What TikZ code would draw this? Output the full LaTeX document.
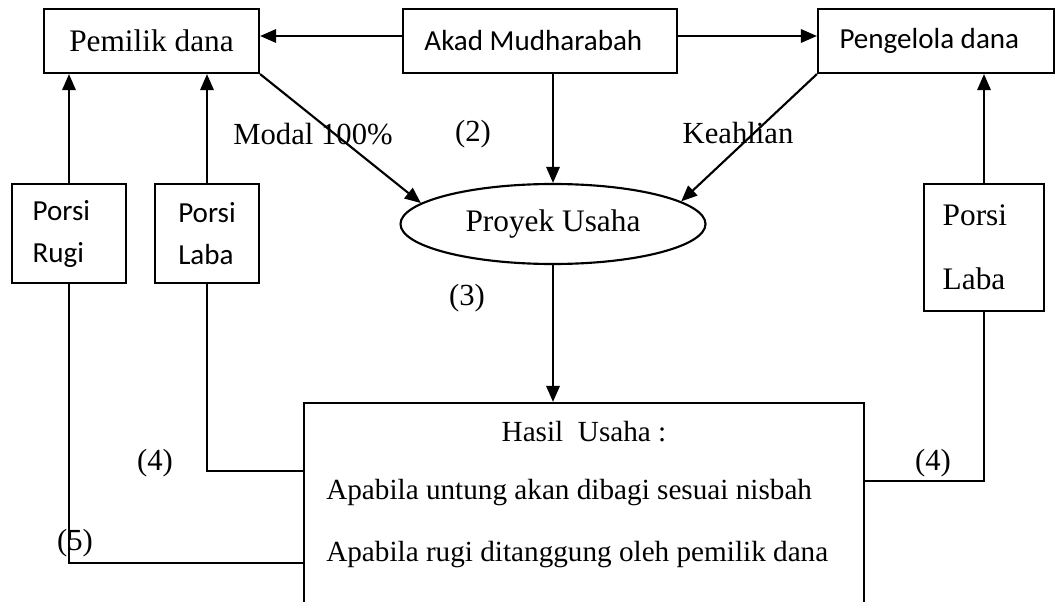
\documentclass[tikz,border=0pt]{standalone}
\usepackage{fontspec}
\setmainfont{Liberation Serif}
\newfontfamily\carlito{Carlito}
\usetikzlibrary{arrows.meta,calc,shapes.geometric}
\newcommand\serifsz{\fontsize{23.5}{28}\selectfont}
\newcommand\bodysz{\fontsize{21.9}{26}\selectfont}
\newcommand\sanssz{\carlito\fontsize{21.8}{31.5}\selectfont}
\tikzset{
  box/.style ={draw,line width=1.6pt,inner sep=0pt,align=center,font=\serifsz},
  sbox/.style={box,font=\sanssz},
  oval/.style={draw,ellipse,line width=1.6pt,inner sep=0pt,font=\serifsz},
  arr/.style ={-{Triangle[length=12pt,width=10pt]},line width=1.6pt},
  ln/.style  ={line width=1.6pt},
  lbl/.style ={font=\fontsize{23}{28}\selectfont,inner sep=0pt},
}
\begin{document}
\begin{tikzpicture}[x=0.75pt,y=-0.75pt]
\clip (0,0) rectangle (1055,602);

% top row
\node[box,minimum width=161.25pt,minimum height=48pt] (pemilik) at (151.5,41) {Pemilik dana};
\node[sbox,minimum width=205.5pt,minimum height=48pt] (akad) at (540,41) {Akad Mudharabah\hspace{10pt}};
\node[sbox,minimum width=177pt,minimum height=48pt] (pengelola) at (936,41) {Pengelola dana\hspace{10pt}};

\node[oval,minimum width=228.75pt,minimum height=60pt] (proyek) at (553,224) {Proyek Usaha};

% portions
\node[sbox,align=left,minimum width=85.5pt,minimum height=74.25pt] (rugi) at (69,233.5) {Porsi\\Rugi\hspace*{16pt}};
\node[sbox,align=left,minimum width=78pt,minimum height=74.25pt] (labaL) at (207,233.5) {Porsi\\Laba};
\node[box,align=left,font=\fontsize{23.5}{48}\selectfont,minimum width=90pt,minimum height=95.25pt] (labaR) at (984,247.5) {Porsi\\Laba\hspace*{15pt}};

% result box, runs off the bottom
\node[box,minimum width=420pt,minimum height=177.75pt] (hasil) at (584,521.5) {};
\node[lbl,font=\bodysz] (hasilT) at (584,432) {Hasil\ \ Usaha :};
\node[lbl,font=\bodysz,anchor=west] (untung) at (326,493) {Apabila untung akan dibagi sesuai nisbah};
\node[lbl,font=\bodysz,anchor=west] (rugiT) at (326,555) {Apabila rugi ditanggung oleh pemilik dana};

% labels
\node[lbl] (modal) at (313,134) {Modal 100\%};
\node[lbl] (n2) at (473,134) {(2)};
\node[lbl] (keahlian) at (738,133) {Keahlian};
\node[lbl] (n3) at (467,298) {(3)};
\node[lbl] (n4a) at (155,463) {(4)};
\node[lbl] (n4b) at (933,463) {(4)};
\node[lbl] (n5) at (75,543) {(5)};

\draw[arr] ($(akad.west)+(0,-5)$) -- ($(pemilik.east)+(0,-5)$);
\draw[arr] ($(akad.east)+(0,-5)$) -- ($(pengelola.west)+(0,-5)$);
\draw[arr] (akad.south -| proyek.north) -- (proyek.north);
\draw[arr] (pemilik.south east) -- (proyek.171);
\draw[arr] (pengelola.south west) -- (proyek.10);
\draw[arr] (proyek.south) -- (proyek.south |- hasil.north);
\draw[arr] (rugi.north) -- (rugi.north |- pemilik.south);
\draw[arr] (labaL.north) -- (labaL.north |- pemilik.south);
\draw[arr] (labaR.north) -- (labaR.north |- pengelola.south);
\draw[ln] (labaL.south) |- ($(hasil.north west)+(0,69)$);
\draw[ln] (rugi.south) |- ($(hasil.north west)+(0,161)$);
\draw[ln] ($(hasil.north east)+(0,79)$) -| (labaR.south);

\end{tikzpicture}
\end{document}
